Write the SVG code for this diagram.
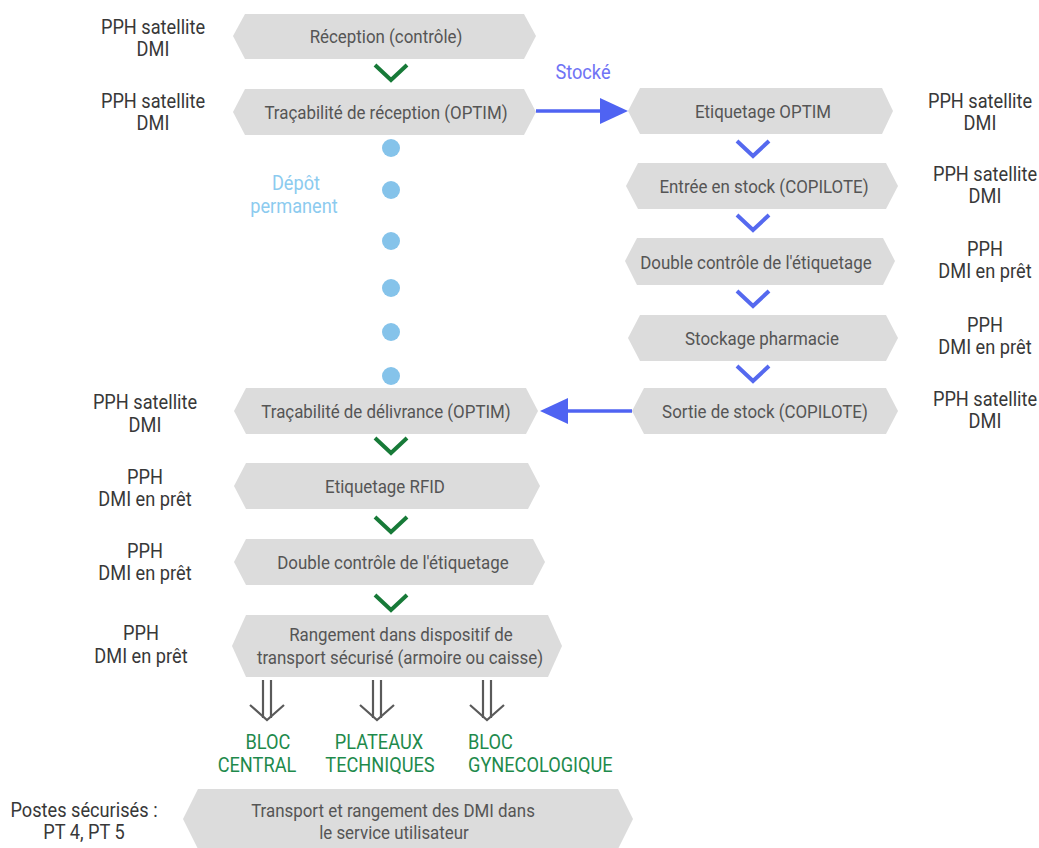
<svg xmlns="http://www.w3.org/2000/svg" width="1039" height="848" viewBox="0 0 1039 848">
  <style>
    text { font-family: Roboto, "Liberation Sans", sans-serif; transform-box: fill-box; transform-origin: center; }
    .hex { fill: #dcdcdc; }
    .nt { font-size: 19px; fill: #555555; text-anchor: middle; transform: scaleX(0.89); }
    .side { font-size: 20px; fill: #383838; text-anchor: middle; transform: scaleX(0.91); }
    .dest { font-size: 20px; fill: #1e8a4c; text-anchor: middle; transform: scaleX(0.91); }
    .dest.start { text-anchor: start; transform-origin: left center; }
    .note { font-size: 20px; text-anchor: middle; transform: scaleX(0.91); }
    .gchev { fill: none; stroke: #177a38; stroke-width: 4; }
    .bchev { fill: none; stroke: #5569ef; stroke-width: 4; }
    .dot { fill: #85c3ea; }
    .dbl { fill: none; stroke: #5a5a5a; stroke-width: 2.2; }
  </style>
  <rect width="1039" height="848" fill="#ffffff"/>

  <!-- side labels, left -->
  <g id="labels-left">
    <text class="side" x="153" y="34">PPH satellite</text><text class="side" x="153" y="56">DMI</text>
    <text class="side" x="153" y="108">PPH satellite</text><text class="side" x="153" y="130">DMI</text>
    <text class="side" x="145" y="409">PPH satellite</text><text class="side" x="145" y="432">DMI</text>
    <text class="side" x="145" y="484">PPH</text><text class="side" x="145" y="506">DMI en prêt</text>
    <text class="side" x="145" y="558">PPH</text><text class="side" x="145" y="580">DMI en prêt</text>
    <text class="side" x="141" y="640">PPH</text><text class="side" x="141" y="663">DMI en prêt</text>
    <text class="side" x="84" y="817">Postes sécurisés :</text><text class="side" x="84" y="839">PT 4, PT 5</text>
  </g>

  <!-- side labels, right -->
  <g id="labels-right">
    <text class="side" x="980" y="108">PPH satellite</text><text class="side" x="980" y="130">DMI</text>
    <text class="side" x="985" y="181">PPH satellite</text><text class="side" x="985" y="203">DMI</text>
    <text class="side" x="985" y="256">PPH</text><text class="side" x="985" y="278">DMI en prêt</text>
    <text class="side" x="985" y="332">PPH</text><text class="side" x="985" y="354">DMI en prêt</text>
    <text class="side" x="985" y="406">PPH satellite</text><text class="side" x="985" y="428">DMI</text>
  </g>

  <!-- main column -->
  <g id="reception">
    <polygon class="hex" points="233,36 245,14 524,14 536,36 524,59 245,59"/>
    <text class="nt" x="386" y="43">Réception (contrôle)</text>
  </g>
  <g id="tracabilite-reception">
    <polygon class="hex" points="233,112 245,89 524,89 536,112 524,135 245,135"/>
    <text class="nt" x="386" y="119">Traçabilité de réception (OPTIM)</text>
  </g>
  <g id="tracabilite-delivrance">
    <polygon class="hex" points="234,411 246,388 526,388 538,411 526,434 246,434"/>
    <text class="nt" x="386" y="418">Traçabilité de délivrance (OPTIM)</text>
  </g>
  <g id="etiquetage-rfid">
    <polygon class="hex" points="234,486 246,463 528,463 540,486 528,509 246,509"/>
    <text class="nt" x="385" y="493">Etiquetage RFID</text>
  </g>
  <g id="double-controle-2">
    <polygon class="hex" points="234,562 246,539 533,539 545,562 533,585 246,585"/>
    <text class="nt" x="393" y="569">Double contrôle de l'étiquetage</text>
  </g>
  <g id="rangement">
    <polygon class="hex" points="232,646 246,615 548,615 562,646 548,677 246,677"/>
    <text class="nt" x="401" y="641">Rangement dans dispositif de</text>
    <text class="nt" x="400" y="664">transport sécurisé (armoire ou caisse)</text>
  </g>
  <g id="transport">
    <polygon class="hex" points="183,819 198,789 618,789 633,819 618,849 198,849"/>
    <text class="nt" x="393" y="817">Transport et rangement des DMI dans</text>
    <text class="nt" x="394" y="839">le service utilisateur</text>
  </g>

  <!-- stock column -->
  <g id="etiquetage-optim">
    <polygon class="hex" points="628,111 640,88 882,88 893,111 882,134 640,134"/>
    <text class="nt" x="763" y="118">Etiquetage OPTIM</text>
  </g>
  <g id="entree-stock">
    <polygon class="hex" points="626,186 638,163 886,163 898,186 886,209 638,209"/>
    <text class="nt" x="764" y="193">Entrée en stock (COPILOTE)</text>
  </g>
  <g id="double-controle-1">
    <polygon class="hex" points="625,261 637,238 883,238 895,261 883,285 637,285"/>
    <text class="nt" x="756" y="269">Double contrôle de l'étiquetage</text>
  </g>
  <g id="stockage">
    <polygon class="hex" points="628,338 640,315 886,315 898,338 886,361 640,361"/>
    <text class="nt" x="762" y="345">Stockage pharmacie</text>
  </g>
  <g id="sortie-stock">
    <polygon class="hex" points="632,411 644,388 886,388 898,411 886,434 644,434"/>
    <text class="nt" x="765" y="418">Sortie de stock (COPILOTE)</text>
  </g>

  <!-- connectors -->
  <g id="connectors">
    <polyline class="gchev" points="375,65 391,80 407,65"/>
    <polyline class="gchev" points="375,438 391,453 407,438"/>
    <polyline class="gchev" points="375,517 391,532 407,517"/>
    <polyline class="gchev" points="375,595 391,610 407,595"/>

    <polyline class="bchev" points="737,141 753,156 769,141"/>
    <polyline class="bchev" points="737,215 753,230 769,215"/>
    <polyline class="bchev" points="737,291 753,306 769,291"/>
    <polyline class="bchev" points="737,366 753,381 769,366"/>

    <line x1="536" y1="111" x2="603" y2="111" stroke="#4f63f2" stroke-width="3.5"/>
    <polygon points="600,98 628,111 600,124" fill="#4f63f2"/>
    <line x1="632" y1="411" x2="565" y2="411" stroke="#4f63f2" stroke-width="3.5"/>
    <polygon points="568,398 540,411 568,424" fill="#4f63f2"/>

    <circle class="dot" cx="391" cy="148" r="9"/>
    <circle class="dot" cx="391" cy="190" r="9"/>
    <circle class="dot" cx="391" cy="241" r="9"/>
    <circle class="dot" cx="391" cy="288" r="9"/>
    <circle class="dot" cx="391" cy="332" r="9"/>
    <circle class="dot" cx="391" cy="376" r="9"/>

    <g class="dbl">
      <line x1="263" y1="680" x2="263" y2="718"/><line x1="271" y1="680" x2="271" y2="718"/>
      <polyline points="250,705 267,720 284,705"/>
      <line x1="373" y1="680" x2="373" y2="718"/><line x1="381" y1="680" x2="381" y2="718"/>
      <polyline points="360,705 377,720 394,705"/>
      <line x1="483" y1="680" x2="483" y2="718"/><line x1="491" y1="680" x2="491" y2="718"/>
      <polyline points="470,705 487,720 504,705"/>
    </g>
  </g>

  <!-- annotations -->
  <g id="annotations">
    <text class="note" x="583" y="79" fill="#6f73f5">Stocké</text>
    <text class="note" x="296" y="190" fill="#8ccbef">Dépôt</text>
    <text class="note" x="294" y="213" fill="#8ccbef">permanent</text>
  </g>

  <!-- destinations -->
  <g id="destinations">
    <text class="dest" x="268" y="749">BLOC</text>
    <text class="dest" x="257" y="772">CENTRAL</text>
    <text class="dest" x="379" y="749">PLATEAUX</text>
    <text class="dest" x="380" y="772">TECHNIQUES</text>
    <text class="dest start" x="468" y="749">BLOC</text>
    <text class="dest start" x="468" y="772">GYNECOLOGIQUE</text>
  </g>
</svg>
